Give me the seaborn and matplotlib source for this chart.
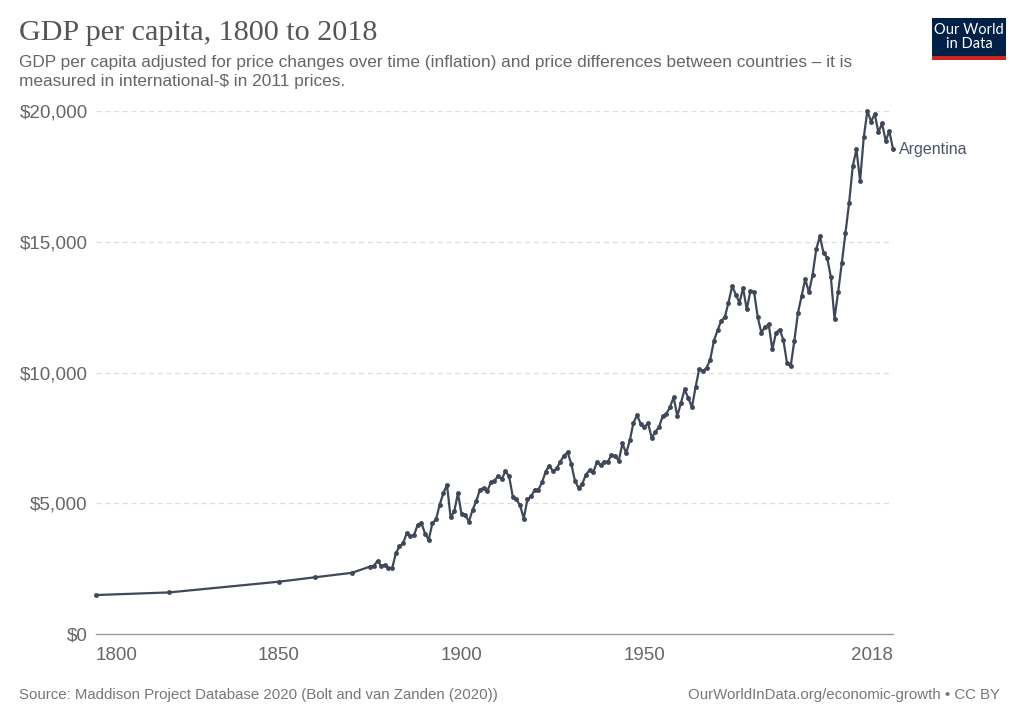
import numpy as np
import pandas as pd
import seaborn as sns
import matplotlib.pyplot as plt
from matplotlib.patches import Rectangle

# GDP per capita, Argentina (int.-$ 2011 prices)
early_years = [1800, 1820, 1850, 1860, 1870]
early_gdp = [1490, 1590, 2000, 2170, 2340]

annual_years = list(range(1875, 2019))
annual_gdp = [
    2580, 2600, 2800, 2600, 2640, 2520, 2510, 3080, 3350, 3470,
    3860, 3730, 3790, 4180, 4250, 3840, 3600, 4230, 4380, 4940,
    5380, 5700, 4460, 4690, 5390, 4570, 4560, 4290, 4750, 5070,
    5520, 5580, 5450, 5800, 5860, 6050, 5930, 6220, 6030, 5250,
    5150, 4920, 4410, 5150, 5260, 5520, 5520, 5800, 6210, 6440,
    6220, 6330, 6590, 6820, 6950, 6500, 5860, 5580, 5740, 6090,
    6270, 6180, 6570, 6460, 6590, 6590, 6850, 6800, 6630, 7290,
    6910, 7400, 8070, 8370, 8030, 7920, 8060, 7500, 7730, 7920,
    8330, 8420, 8670, 9060, 8330, 8840, 9350, 9030, 8670, 9440,
    10140, 10050, 10180, 10490, 11200, 11610, 11970, 12120, 12670, 13300,
    12980, 12670, 13230, 12410, 13120, 13080, 12120, 11520, 11740, 11840,
    10880, 11520, 11640, 11250, 10370, 10230, 11200, 12280, 12920, 13570,
    13060, 13730, 14710, 15210, 14570, 14390, 13650, 12060, 13080, 14190,
    15350, 16490, 17900, 18530, 17330, 18990, 20010, 19590, 19890, 19180,
    19530, 18860, 19230, 18540,
]

country = "Argentina"
x_ticks = [1800, 1850, 1900, 1950, 2018]
y_ticks = [0, 5000, 10000, 15000, 20000]

df = pd.DataFrame({
    "year": early_years + annual_years,
    "gdp": early_gdp + annual_gdp,
})

sns.set_style("white")
plt.rcParams['font.family'] = ['Liberation Sans', 'DejaVu Sans']

fig = plt.figure(figsize=(10.24, 7.24), dpi=100)
ax = fig.add_axes([96 / 1024, 90 / 724, 797 / 1024, 523 / 724])

line_col = "#3e4858"
sns.lineplot(data=df, x="year", y="gdp", ax=ax, color=line_col, linewidth=1.6,
             marker="o", markersize=3.5, markeredgewidth=0, clip_on=False)

ax.set_xlim(1800, 2018)
ax.set_ylim(0, 20000)
ax.set_xlabel("")
ax.set_ylabel("")

ax.set_yticks(y_ticks)
ax.set_yticklabels(["$0", "$5,000", "$10,000", "$15,000", "$20,000"])
ax.set_xticks(x_ticks)
ax.set_xticklabels([str(t) for t in x_ticks])
labels = ax.get_xticklabels()
labels[0].set_ha("left")
labels[-1].set_ha("right")

ax.tick_params(axis="y", length=0, pad=6, labelsize=13.6, labelcolor="#666666")
ax.tick_params(axis="x", length=5, width=1, color="#999999", pad=4,
               labelsize=13.5, labelcolor="#666666")

for v in y_ticks[1:]:
    ax.axhline(v, color="#dddddd", linewidth=0.9, linestyle=(0, (4, 3)), zorder=0)

for s in ["top", "right", "left"]:
    ax.spines[s].set_visible(False)
ax.spines["bottom"].set_color("#999999")
ax.spines["bottom"].set_linewidth(1)

ax.annotate(country, (2018, annual_gdp[-1]), xytext=(4, 0),
            textcoords="offset points", fontsize=11.5, color="#4a5566",
            va="center", ha="left", annotation_clip=False)

# header
fig.text(19 / 1024, 1 - 33 / 724, "GDP per capita, 1800 to 2018",
         family=["Liberation Serif", "DejaVu Serif"], fontsize=21.7,
         color="#555555", va="center", ha="left")
fig.text(19 / 1024, 1 - 72 / 724,
         "GDP per capita adjusted for price changes over time (inflation) and price differences between countries \u2013 it is\n"
         "measured in international-$ in 2011 prices.",
         fontsize=12.4, color="#666666", va="center", ha="left", linespacing=1.28)

# logo
fig.patches.append(Rectangle((932 / 1024, 1 - 57 / 724), 74 / 1024, 39 / 724,
                             transform=fig.transFigure, facecolor="#002147",
                             edgecolor="none"))
fig.patches.append(Rectangle((932 / 1024, 1 - 60 / 724), 74 / 1024, 4 / 724,
                             transform=fig.transFigure, facecolor="#ce261e",
                             edgecolor="none"))
fig.text(969 / 1024, 1 - 37 / 724, "Our World\nin Data", fontsize=10.5,
         family=["Lato", "DejaVu Sans"], color="white", ha="center",
         va="center", linespacing=1.0)

# footer
fig.text(19 / 1024, 1 - 695 / 724,
         "Source: Maddison Project Database 2020 (Bolt and van Zanden (2020))",
         fontsize=10.8, color="#777777", va="center", ha="left")
fig.text(1000 / 1024, 1 - 695 / 724,
         "OurWorldInData.org/economic-growth \u2022 CC BY",
         fontsize=10.8, color="#777777", va="center", ha="right")

fig.savefig("out.png", dpi=100, facecolor="white")
